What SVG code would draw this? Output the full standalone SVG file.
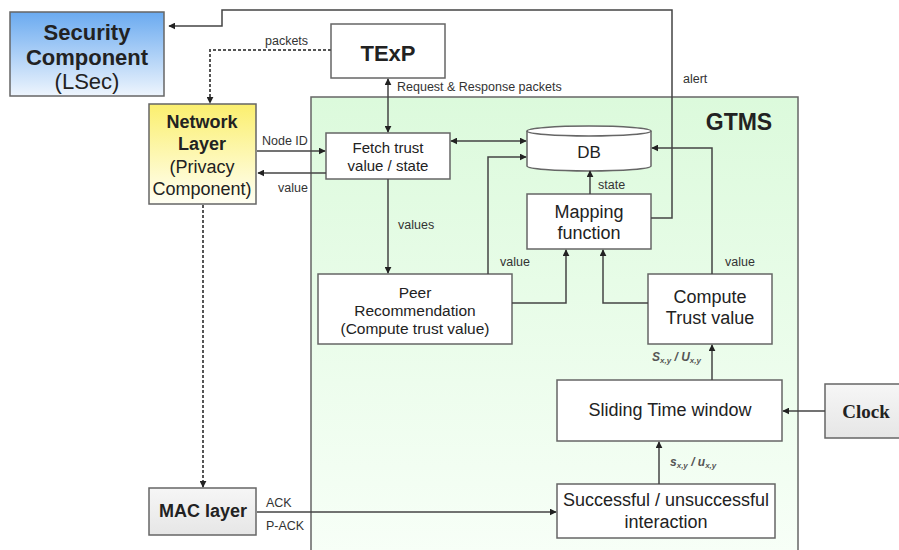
<svg xmlns="http://www.w3.org/2000/svg" width="899" height="550" viewBox="0 0 899 550">
<defs>
<linearGradient id="gSec" x1="0" y1="0" x2="0" y2="1"><stop offset="0" stop-color="#6aaaf0"/><stop offset="1" stop-color="#eef5fd"/></linearGradient>
<linearGradient id="gNet" x1="0" y1="0" x2="0" y2="1"><stop offset="0" stop-color="#fbef6e"/><stop offset="1" stop-color="#fffff4"/></linearGradient>
<linearGradient id="gGray" x1="0" y1="0" x2="0" y2="1"><stop offset="0" stop-color="#f6f6f6"/><stop offset="1" stop-color="#e6e6e6"/></linearGradient>
<linearGradient id="gGtms" x1="0" y1="0" x2="0" y2="1"><stop offset="0" stop-color="#dcfadc"/><stop offset="1" stop-color="#f8fff8"/></linearGradient>
<marker id="ar" viewBox="0 0 10 10" refX="9" refY="5" markerWidth="7" markerHeight="7" orient="auto-start-reverse" markerUnits="userSpaceOnUse"><path d="M0,0 L10,5 L0,10 Z" fill="#222"/></marker>
</defs>
<style>
.box{fill:#fff;stroke:#666;stroke-width:1.5}
.t{font-family:"Liberation Sans",Arial,sans-serif;fill:#222;text-anchor:middle}
.b{font-weight:bold}
.lb{font-family:"Liberation Sans",Arial,sans-serif;font-size:12.5px;fill:#333}
.sub{font-family:"Liberation Sans",Arial,sans-serif;font-size:12px;font-style:italic;font-weight:bold;fill:#555}
.c{fill:none;stroke:#444;stroke-width:1.5}
.d{fill:none;stroke:#555;stroke-width:2;stroke-dasharray:3,2}
</style>
<rect width="899" height="550" fill="#fff"/>

<g id="gtms">
<rect x="311" y="97" width="487" height="470" fill="url(#gGtms)" stroke="#666" stroke-width="1.5"/>
<text class="t b" x="739" y="130" font-size="23">GTMS</text>
</g>

<g id="security">
<rect x="10" y="12" width="154" height="84" fill="url(#gSec)" stroke="#666" stroke-width="1.5"/>
<text class="t b" x="87" y="40" font-size="22">Security</text>
<text class="t b" x="87" y="65" font-size="22">Component</text>
<text class="t" x="87" y="89" font-size="22">(LSec)</text>
</g>

<g id="texp">
<rect class="box" x="331" y="24" width="114" height="54"/>
<text class="t b" x="388" y="61" font-size="22">TExP</text>
</g>

<g id="network">
<rect x="149" y="104" width="107" height="100" fill="url(#gNet)" stroke="#666" stroke-width="1.5"/>
<text class="t b" x="202" y="128" font-size="18">Network</text>
<text class="t b" x="202" y="150" font-size="18">Layer</text>
<text class="t" x="202" y="173" font-size="18">(Privacy</text>
<text class="t" x="202" y="195" font-size="18">Component)</text>
</g>

<g id="fetch">
<rect class="box" x="326" y="133" width="124" height="46"/>
<text class="t" x="388" y="153" font-size="15">Fetch trust</text>
<text class="t" x="388" y="171" font-size="15">value / state</text>
</g>

<g id="db">
<path d="M527,131 A62,5 0 0,1 651,131 V166 A62,5 0 0,1 527,166 Z" fill="#fff" stroke="#666" stroke-width="1.5"/>
<path d="M527,131 A62,5 0 0,0 651,131" fill="none" stroke="#666" stroke-width="1.5"/>
<text class="t" x="589" y="158" font-size="17">DB</text>
</g>

<g id="mapping">
<rect class="box" x="527" y="194" width="124" height="55"/>
<text class="t" x="589" y="218" font-size="18">Mapping</text>
<text class="t" x="589" y="239" font-size="18">function</text>
</g>

<g id="peer">
<rect class="box" x="318" y="274" width="194" height="70"/>
<text class="t" x="415" y="298" font-size="15.5">Peer</text>
<text class="t" x="415" y="316" font-size="15.5">Recommendation</text>
<text class="t" x="415" y="334" font-size="15.5">(Compute trust value)</text>
</g>

<g id="compute">
<rect class="box" x="648" y="274" width="124" height="70"/>
<text class="t" x="710" y="303" font-size="18">Compute</text>
<text class="t" x="710" y="324" font-size="18">Trust value</text>
</g>

<g id="sliding">
<rect class="box" x="557" y="380" width="225" height="61"/>
<text class="t" x="670" y="416" font-size="18">Sliding Time window</text>
</g>

<g id="clock">
<rect x="825" y="384" width="80" height="54" fill="url(#gGray)" stroke="#666" stroke-width="1.5"/>
<text class="t b" x="866" y="418" font-size="19" font-family="'Liberation Serif',serif" style="font-family:'Liberation Serif',serif">Clock</text>
</g>

<g id="success">
<rect class="box" x="557" y="484" width="218" height="54"/>
<text class="t" x="666" y="506" font-size="18">Successful / unsuccessful</text>
<text class="t" x="666" y="528" font-size="18">interaction</text>
</g>

<g id="mac">
<rect x="149" y="488" width="107" height="47" fill="url(#gGray)" stroke="#666" stroke-width="1.5"/>
<text class="t b" x="203" y="517" font-size="18">MAC layer</text>
</g>

<g id="connectors">
<path class="c" d="M651,218 H672 V10 H222 V26 H169" marker-end="url(#ar)"/>
<path class="d" d="M331,50 H210 V103" marker-end="url(#ar)"/>
<path class="c" d="M388,79 V132" marker-start="url(#ar)" marker-end="url(#ar)"/>
<path class="c" d="M257,151 H325" marker-end="url(#ar)"/>
<path class="c" d="M326,173 H258" marker-end="url(#ar)"/>
<path class="c" d="M451,141 H526" marker-start="url(#ar)" marker-end="url(#ar)"/>
<path class="c" d="M388,179 V273" marker-end="url(#ar)"/>
<path class="c" d="M488,274 V157 H526" marker-end="url(#ar)"/>
<path class="c" d="M712,274 V148 H652" marker-end="url(#ar)"/>
<path class="c" d="M590,194 V171" marker-end="url(#ar)"/>
<path class="c" d="M512,303 H566 V250" marker-end="url(#ar)"/>
<path class="c" d="M648,303 H603 V250" marker-end="url(#ar)"/>
<path class="c" d="M712,380 V345" marker-end="url(#ar)"/>
<path class="c" d="M825,411 H783" marker-end="url(#ar)"/>
<path class="c" d="M659,484 V442" marker-end="url(#ar)"/>
<path class="d" d="M203,205 V487" marker-end="url(#ar)"/>
<path class="c" d="M257,512 H556" marker-end="url(#ar)"/>
</g>

<g id="labels">
<text class="lb" x="265" y="45">packets</text>
<text class="lb" x="397" y="91">Request  &amp; Response packets</text>
<text class="lb" x="683" y="83">alert</text>
<text class="lb" x="262" y="145">Node ID</text>
<text class="lb" x="278" y="192">value</text>
<text class="lb" x="398" y="229">values</text>
<text class="lb" x="500" y="266">value</text>
<text class="lb" x="598" y="189">state</text>
<text class="lb" x="725" y="266">value</text>
<text class="lb" x="266" y="507">ACK</text>
<text class="lb" x="266" y="530">P-ACK</text>
<text class="sub" x="652" y="361">S<tspan font-size="8" dy="2">x,y</tspan><tspan dy="-2"> / U</tspan><tspan font-size="8" dy="2">x,y</tspan></text>
<text class="sub" x="670" y="466">s<tspan font-size="8" dy="2">x,y</tspan><tspan dy="-2"> / u</tspan><tspan font-size="8" dy="2">x,y</tspan></text>
</g>
</svg>
